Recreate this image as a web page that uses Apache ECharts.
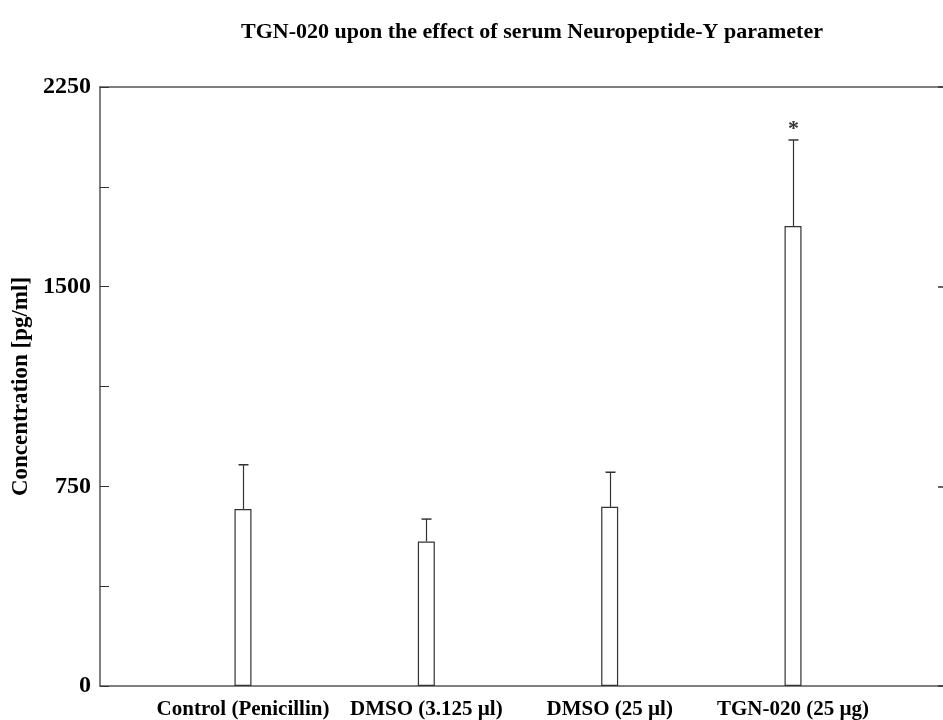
<!DOCTYPE html>
<html>
<head>
<meta charset="utf-8">
<script src="https://cdn.jsdelivr.net/npm/echarts@6/dist/echarts.min.js"></script>
<style>html,body{margin:0;padding:0;background:#fff}#c{width:943px;height:720px}</style>
</head>
<body>
<div id="c"></div>
<script>
var categories = ['Control (Penicillin)', 'DMSO (3.125 µl)', 'DMSO (25 µl)', 'TGN-020 (25 µg)'];
var means = [665, 543, 673, 1728];
var errorTops = [831, 627, 803, 2051];
var significance = ['', '', '', '*'];
var yTicks = [0, 750, 1500, 2250];

var FONT = 'Liberation Serif';
var chart = echarts.init(document.getElementById('c'), null, {renderer: 'canvas'});

var errData = categories.map(function (c, i) { return [i, means[i], errorTops[i], significance[i]]; });
var frameLine = {show: true, onZero: false, lineStyle: {color: '#555', width: 1.5}};

chart.setOption({
  animation: false,
  backgroundColor: '#fff',
  title: {
    text: 'TGN-020 upon the effect of serum Neuropeptide-Y parameter',
    left: 527, top: 16, textAlign: 'center',
    textStyle: {fontFamily: FONT, fontWeight: 'bold', fontSize: 22, color: '#000'}
  },
  grid: [
    {left: 100, right: 0, top: 87, bottom: 34, containLabel: false, outerBoundsMode: 'none'},
    {left: 151.3, right: 58.3, top: 87, bottom: 34, containLabel: false, outerBoundsMode: 'none'}
  ],
  xAxis: [
    {gridIndex: 0, type: 'value', min: 0, max: 1, position: 'bottom', axisLine: frameLine,
     axisTick: {show: false}, axisLabel: {show: false}, splitLine: {show: false}},
    {gridIndex: 0, type: 'value', min: 0, max: 1, position: 'top', axisLine: frameLine,
     axisTick: {show: false}, axisLabel: {show: false}, splitLine: {show: false}},
    {gridIndex: 1, type: 'category', data: categories, boundaryGap: true,
     axisLine: {show: false}, axisTick: {show: false},
     axisLabel: {fontFamily: FONT, fontWeight: 'bold', fontSize: 21, color: '#000', margin: 13, interval: 0}}
  ],
  yAxis: [
    {gridIndex: 0, type: 'value', min: 0, max: 2250, interval: 375, position: 'left',
     name: 'Concentration [pg/ml]', nameLocation: 'middle', nameGap: 64, nameRotate: 90,
     nameTextStyle: {fontFamily: FONT, fontWeight: 'bold', fontSize: 23, color: '#000'},
     axisLine: frameLine, splitLine: {show: false},
     axisTick: {show: true, inside: true, length: 9, lineStyle: {color: '#333', width: 1}},
     axisLabel: {fontFamily: FONT, fontWeight: 'bold', fontSize: 24, color: '#000', margin: 9,
       formatter: function (v) { return yTicks.indexOf(v) >= 0 ? String(v) : ''; }}},
    {gridIndex: 0, type: 'value', min: 0, max: 2250, interval: 750, position: 'right',
     axisLine: {show: false, onZero: false}, splitLine: {show: false}, axisLabel: {show: false},
     axisTick: {show: true, inside: true, length: 5, lineStyle: {color: '#333', width: 1.5}}},
    {gridIndex: 1, type: 'value', min: 0, max: 2250, show: false}
  ],
  series: [
    {type: 'bar', xAxisIndex: 2, yAxisIndex: 2, data: means, barWidth: 17,
     itemStyle: {color: '#fff', borderColor: '#333', borderWidth: 1.2}},
    {type: 'custom', xAxisIndex: 2, yAxisIndex: 2, data: errData,
     renderItem: function (params, api) {
       var base = api.coord([api.value(0), api.value(1)]);
       var top = api.coord([api.value(0), api.value(2)]);
       var x = Math.round(base[0]) + 0.5;
       var children = [
         {type: 'line', shape: {x1: x, y1: base[1], x2: x, y2: top[1]}, style: {stroke: '#333', lineWidth: 1.2}},
         {type: 'line', shape: {x1: x - 5, y1: top[1], x2: x + 5, y2: top[1]}, style: {stroke: '#333', lineWidth: 1.5}}
       ];
       var s = significance[params.dataIndex];
       if (s) {
         children.push({type: 'text', style: {text: s, x: x, y: top[1] - 22, textAlign: 'center', textVerticalAlign: 'top',
           font: 'bold 22px "Liberation Serif"', fill: '#333'}});
       }
       return {type: 'group', children: children};
     }}
  ]
});
</script>
</body>
</html>
